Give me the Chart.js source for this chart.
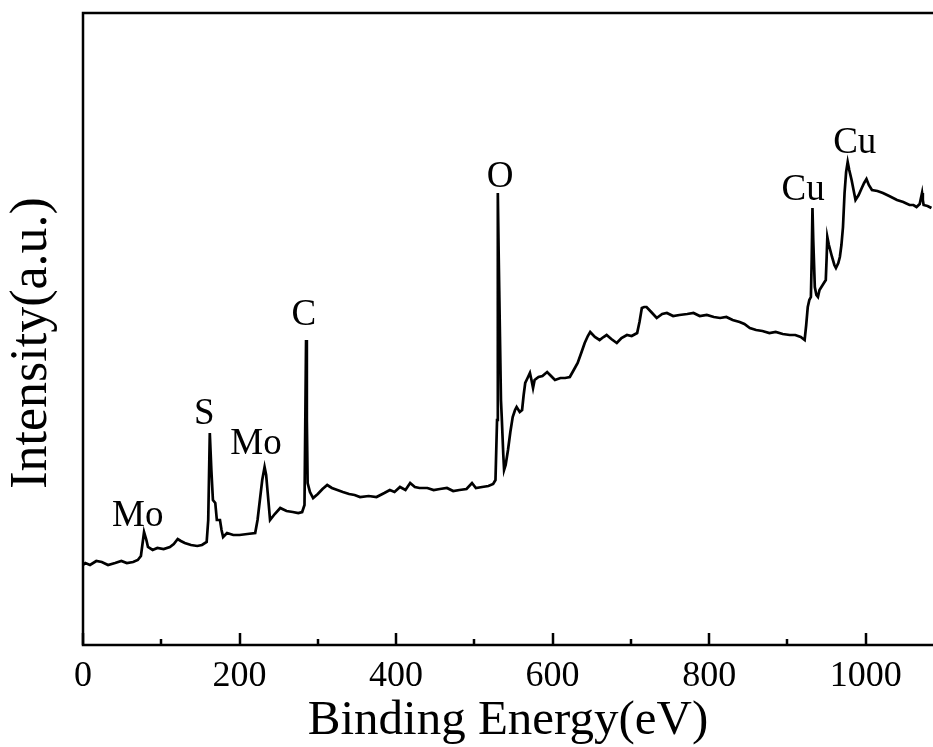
<!DOCTYPE html>
<html>
<head>
<meta charset="utf-8">
<script src="https://cdn.jsdelivr.net/npm/chart.js@4"></script>
<style>
  body { margin: 0; background: #fff; }
  #wrap { width: 933px; height: 747px; position: relative; }
</style>
</head>
<body>
<div id="wrap"><canvas id="myChart"></canvas></div>
<script>
// binding energy (eV) and intensity (a.u.)
var energy = [0,3,9,17,24,32,41,49,56,64,70,74,78,81,83,89,95,103,111,116,121,125,130,138,146,152,158,160,162,164,166,169,171,175,177,179,184,192,200,210,220,223,226,229,232,234,236,239,245,252,260,268,275,280,283,285,286,287,290,294,300,306,312,318,325,332,340,347,354,365,375,385,392,398,405,412,418,424,430,440,448,456,465,473,481,490,497,502,510,518,524,527,529,530,531,532,534,535,537,538,540,543,546,549,552,554,558,561,563,565,568,571,573,575,577,582,587,593,598,603,610,616,622,627,632,637,641,645,648,654,660,665,669,675,682,688,695,701,708,711,714,717,720,726,733,740,746,754,762,772,780,788,797,806,814,822,830,839,845,852,860,868,877,885,894,903,910,917,922,924,926,928,930,931,932,933,935,937,939,941,945,949,950,951,953,957,960,962,965,967,969,971,973,975,977,979,982,985,987,991,995,998,1001,1004,1008,1015,1022,1030,1040,1048,1056,1061,1065,1069,1072,1073,1074,1079,1084];
var intensity = [80,82,80,84,83,80,82,84,82,83,85,89,113,105,98,95,97,96,98,101,106,104,102,100,99,100,103,125,212,175,145,142,125,125,115,108,112,110,110,111,112,125,145,165,178,170,152,125,131,137,134,133,132,133,140,305,225,162,153,147,151,156,160,157,155,153,151,150,148,149,148,152,155,153,158,155,162,158,157,157,155,156,157,154,155,156,162,157,158,159,161,165,225,452,395,345,245,228,190,175,180,195,213,228,235,238,233,235,250,262,267,272,265,257,265,268,269,273,269,265,267,267,268,275,282,293,302,309,313,308,305,308,310,306,302,307,310,309,312,323,337,338,338,333,327,331,332,329,330,331,332,329,330,328,327,328,325,323,321,317,315,314,312,313,311,310,310,308,305,320,338,345,348,385,437,405,358,350,348,355,360,365,385,408,400,388,380,377,382,388,400,418,452,473,483,475,465,453,445,450,457,462,466,460,455,454,452,449,445,443,440,440,438,441,452,445,440,439,437];

// peak labels: text, energy, intensity of baseline
var peakNames = ['Mo', 'S', 'Mo', 'C', 'O', 'Cu', 'Cu'];
var peakX = [70, 155, 221, 282, 533, 920, 986];
var peakY = [119, 221, 191, 320, 458, 445, 492];

var majorTicks = [0, 200, 400, 600, 800, 1000];
var minorTicks = [100, 300, 500, 700, 900];

var serif = "'Liberation Serif', 'Times New Roman', serif";

// frame, inward ticks, y title and peak labels
var decorPlugin = {
  id: 'decor',
  afterDatasetsDraw(chart) {
    const ctx = chart.ctx;
    const a = chart.chartArea;
    const xs = chart.scales.x;
    const ys = chart.scales.y;
    ctx.save();
    ctx.strokeStyle = '#000';
    ctx.lineWidth = 2.5;
    ctx.beginPath();
    ctx.moveTo(a.right + 2, a.top);
    ctx.lineTo(a.left, a.top);
    ctx.lineTo(a.left, a.bottom);
    ctx.lineTo(a.right + 2, a.bottom);
    ctx.stroke();
    ctx.beginPath();
    majorTicks.forEach(v => {
      const px = Math.round(xs.getPixelForValue(v));
      ctx.moveTo(px, a.bottom);
      ctx.lineTo(px, a.bottom - 12);
    });
    minorTicks.forEach(v => {
      const px = Math.round(xs.getPixelForValue(v));
      ctx.moveTo(px, a.bottom);
      ctx.lineTo(px, a.bottom - 6);
    });
    ctx.stroke();
    ctx.fillStyle = '#000';
    ctx.font = '37px ' + serif;
    ctx.textAlign = 'center';
    ctx.textBaseline = 'alphabetic';
    for (let i = 0; i < peakNames.length; i++) {
      ctx.fillText(peakNames[i], xs.getPixelForValue(peakX[i]), ys.getPixelForValue(peakY[i]));
    }
    // rotated y axis title
    ctx.translate(46, 343);
    ctx.rotate(-Math.PI / 2);
    ctx.font = '52px ' + serif;
    ctx.fillText('Intensity(a.u.)', 0, 0);
    ctx.restore();
  }
};

window.addEventListener('load', setup);

function setup() {
  const points = [];
  for (let i = 0; i < energy.length; i++) {
    points.push({ x: energy[i], y: intensity[i] });
  }
  const ctx = document.getElementById('myChart').getContext('2d');
  new Chart(ctx, {
    type: 'line',
    data: {
      datasets: [{
        data: points,
        borderColor: '#000',
        borderWidth: 2.7,
        pointRadius: 0,
        tension: 0,
        fill: false
      }]
    },
    options: {
      responsive: true,
      maintainAspectRatio: false,
      animation: false,
      layout: { padding: { top: 13, right: 0, left: 0, bottom: 0 } },
      plugins: { legend: { display: false }, tooltip: { enabled: false } },
      scales: {
        x: {
          type: 'linear',
          min: 0,
          max: 1086,
          grid: { display: false, drawTicks: false },
          border: { display: false },
          ticks: {
            stepSize: 200,
            includeBounds: false,
            padding: 10,
            color: '#000',
            font: { family: serif, size: 36 },
            maxRotation: 0,
            callback: v => String(v)
          },
          title: {
            display: true,
            text: 'Binding Energy(eV)',
            color: '#000',
            font: { family: serif, size: 49 },
            padding: { top: 0, bottom: -4 }
          },
          afterFit(scale) { scale.height = 102; }
        },
        y: {
          min: 0,
          max: 632,
          grid: { display: false, drawTicks: false },
          border: { display: false },
          ticks: { display: false },
          afterFit(scale) { scale.width = 83; }
        }
      }
    },
    plugins: [decorPlugin]
  });
}
</script>
</body>
</html>
